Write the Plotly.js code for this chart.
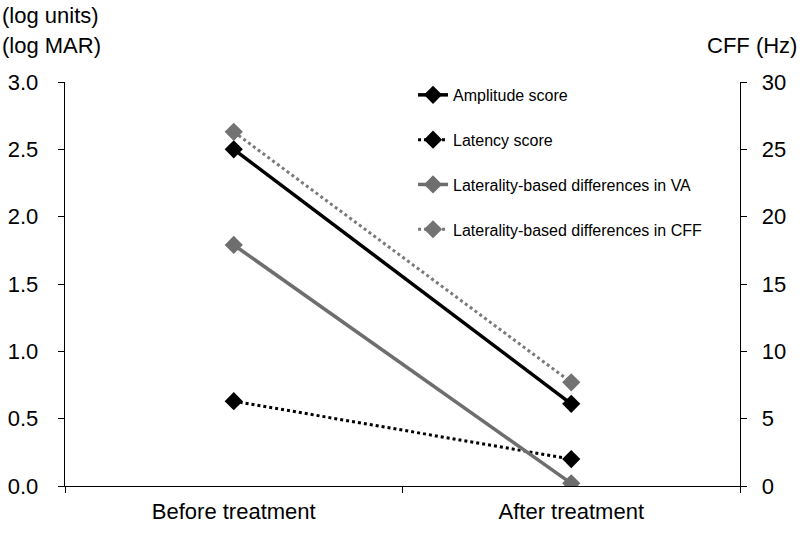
<!DOCTYPE html>
<html>
<head>
<meta charset="utf-8">
<script src="https://cdn.plot.ly/plotly-3.0.1.min.js"></script>
<style>html,body{margin:0;padding:0;background:#fff;}#chart{width:800px;height:542px;}</style>
</head>
<body>
<div id="chart"></div>
<script>
const categories = ["Before treatment", "After treatment"];
const amplitudeScore = [2.50, 0.61];
const latencyScore = [0.63, 0.20];
const vaDifference = [1.79, 0.02];
const cffDifference = [26.3, 7.7];
const leftTicks = [0, 0.5, 1.0, 1.5, 2.0, 2.5, 3.0];
const rightTicks = [0, 5, 10, 15, 20, 25, 30];

const FONT = "Liberation Sans, Arial, sans-serif";
const traces = [
  {x: categories, y: amplitudeScore, name: "Amplitude score", legendgroup: "a", mode: "lines+markers",
   line: {color: "#000000", width: 3.5}, marker: {symbol: "diamond", size: 14, color: "#000000"}},
  {x: categories, y: latencyScore, name: "Latency score", legendgroup: "b", mode: "lines+markers",
   line: {color: "#000000", width: 3, dash: "dot"}, marker: {symbol: "diamond", size: 14, color: "#000000"}},
  {x: categories, y: vaDifference, name: "Laterality-based differences in VA", legendgroup: "c", mode: "lines+markers",
   line: {color: "#6e6e6e", width: 3.5}, marker: {symbol: "diamond", size: 14, color: "#6e6e6e"}},
  {x: categories, y: cffDifference, name: "Laterality-based differences in CFF", legendgroup: "d", mode: "lines+markers",
   yaxis: "y2", line: {color: "#7a7a7a", width: 3, dash: "dot"}, marker: {symbol: "diamond", size: 14, color: "#737373"}}
];

const layout = {
  width: 800, height: 542,
  margin: {l: 65, r: 60, t: 82, b: 56},
  paper_bgcolor: "#ffffff", plot_bgcolor: "#ffffff",
  font: {family: FONT, size: 22, color: "#000000"},
  showlegend: true,
  legend: {x: 0.5156, y: 1.01, xanchor: "left", yanchor: "top", bgcolor: "rgba(0,0,0,0)",
           font: {family: FONT, size: 16, color: "#000000"}, tracegroupgap: 21, itemwidth: 30},
  xaxis: {type: "category", showgrid: false, zeroline: false, showline: true, linecolor: "#000000", linewidth: 1.3,
          ticks: "outside", ticklen: 6, tickcolor: "#000000", tickson: "boundaries", ticklabelstandoff: 5,
          range: [-0.5, 1.5], tickfont: {family: FONT, size: 22}},
  yaxis: {range: [0, 3.0], tickvals: leftTicks, ticktext: leftTicks.map(v => v.toFixed(1)),
          showgrid: false, zeroline: false, showline: true, linecolor: "#000000", linewidth: 1.3,
          ticks: "outside", ticklen: 6, tickcolor: "#000000", ticklabelstandoff: 15, tickfont: {family: FONT, size: 22}},
  yaxis2: {range: [0, 30], tickvals: rightTicks, overlaying: "y", side: "right",
           showgrid: false, zeroline: false, showline: true, linecolor: "#000000", linewidth: 1.3,
           ticks: "outside", ticklen: 6, tickcolor: "#000000", ticklabelstandoff: 10, tickfont: {family: FONT, size: 22}},
  annotations: [
    {text: "(log units)", xref: "paper", yref: "paper", x: 0, y: 1, xanchor: "left", yanchor: "middle",
     xshift: -65, yshift: 67, showarrow: false, font: {family: FONT, size: 22}},
    {text: "(log MAR)", xref: "paper", yref: "paper", x: 0, y: 1, xanchor: "left", yanchor: "middle",
     xshift: -65, yshift: 37, showarrow: false, font: {family: FONT, size: 22}},
    {text: "CFF (Hz)", xref: "paper", yref: "paper", x: 1, y: 1, xanchor: "right", yanchor: "middle",
     xshift: 59, yshift: 37, showarrow: false, font: {family: FONT, size: 22}}
  ]
};

Plotly.newPlot("chart", traces, layout, {displayModeBar: false, staticPlot: true});
</script>
</body>
</html>
